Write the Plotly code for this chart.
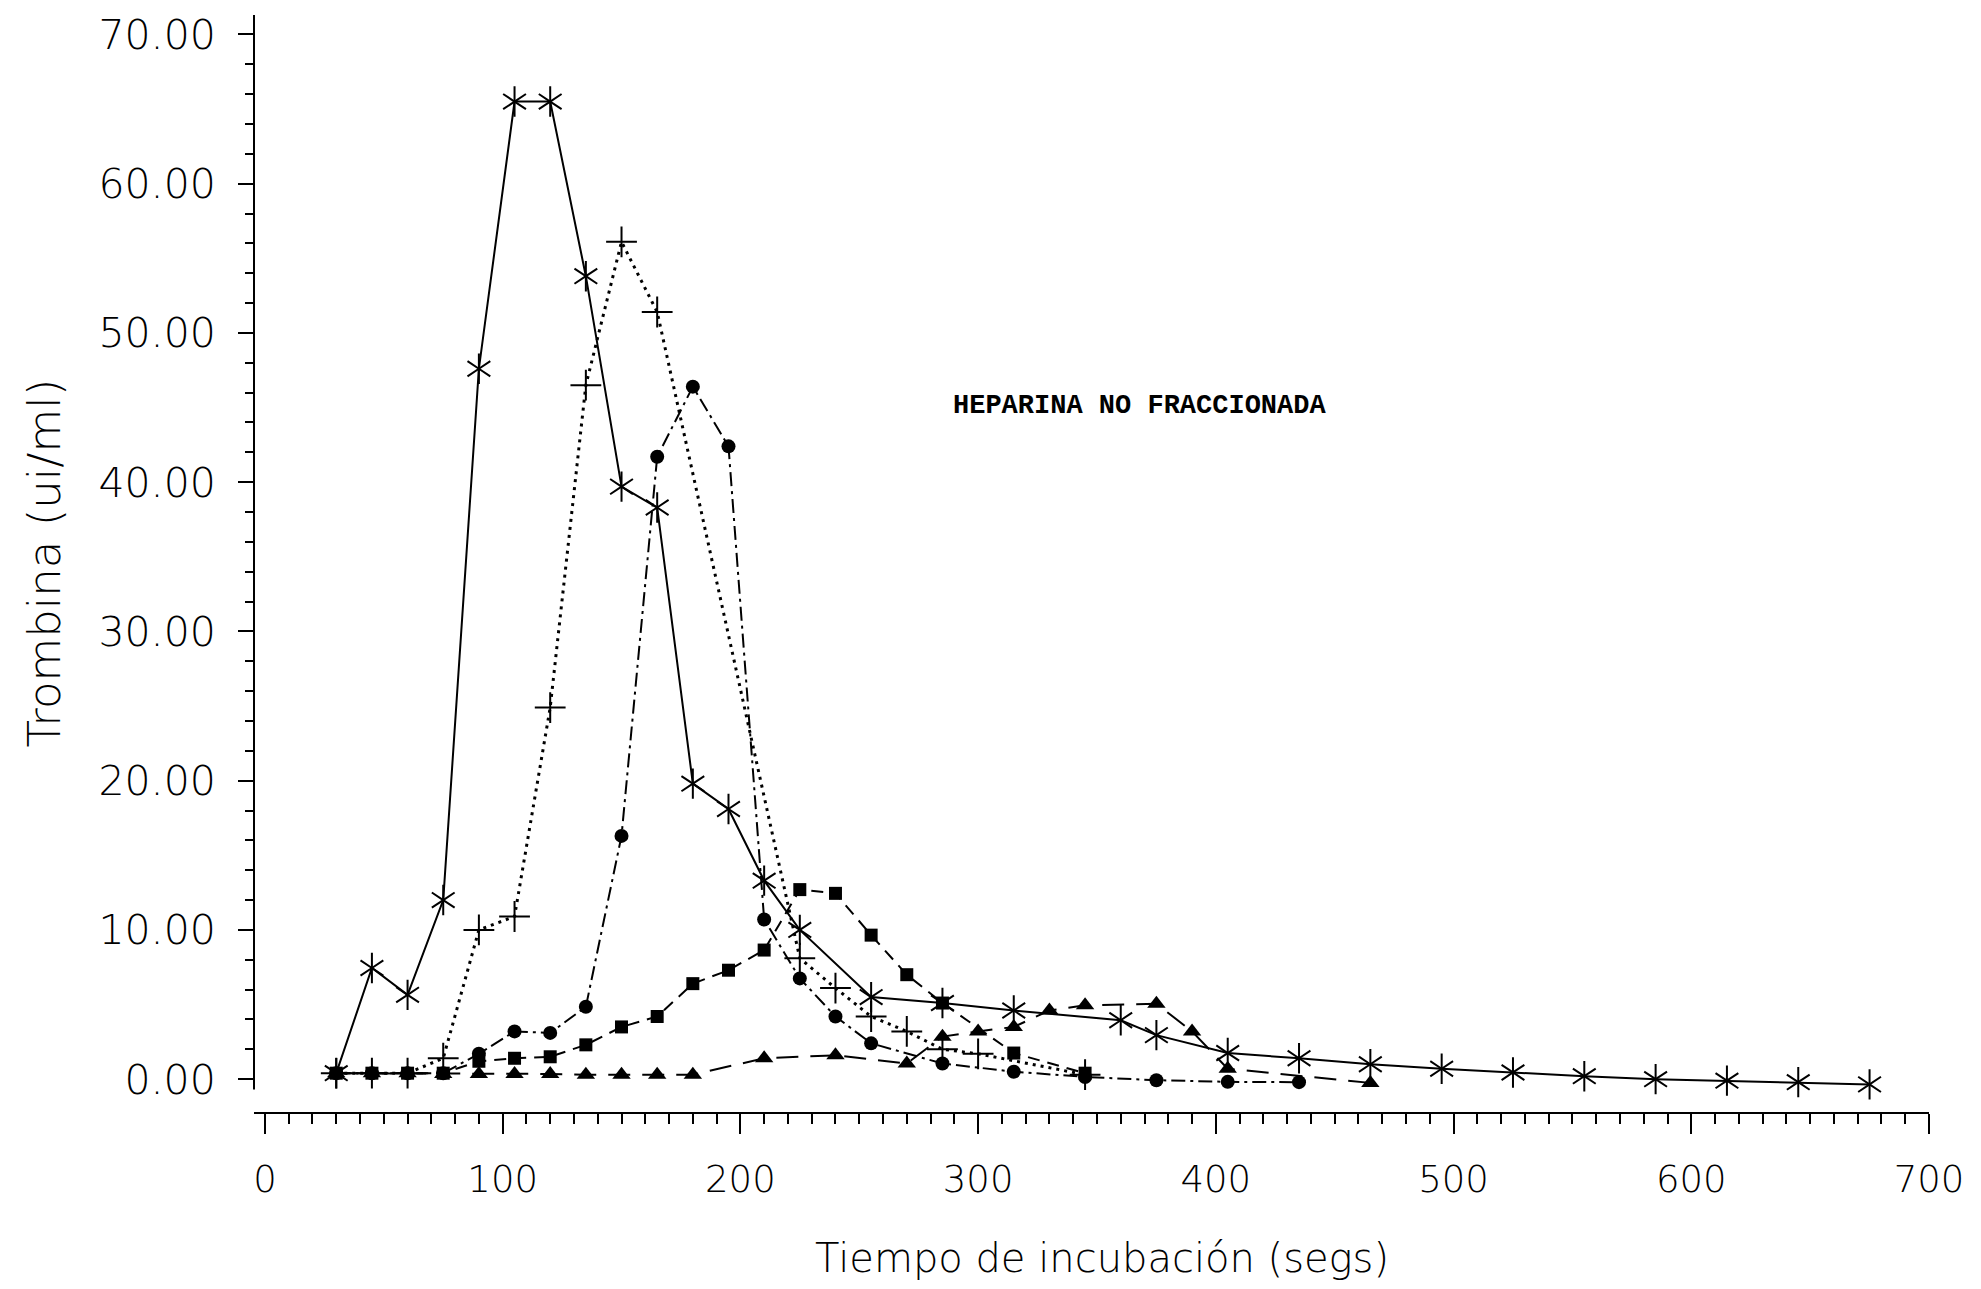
import plotly.graph_objects as go

# ---- data ----
x_star = [30, 45, 60, 75, 90, 105, 120, 135, 150, 165, 180, 195, 210, 225, 255, 285, 315,
          360, 375, 405, 435, 465, 495, 525, 555, 585, 615, 645, 675]
y_star = [0.4, 7.45, 5.65, 12.0, 47.6, 65.5, 65.5, 53.8, 39.7, 38.3, 19.8, 18.1, 13.3, 10.0,
          5.5, 5.1, 4.6, 3.95, 2.95, 1.75, 1.4, 1.0, 0.7, 0.45, 0.2, 0.0, -0.1, -0.2, -0.35]

x_plus = [30, 45, 60, 75, 90, 105, 120, 135, 150, 165, 225, 240, 255, 270, 285, 300, 345]
y_plus = [0.4, 0.4, 0.4, 1.4, 10.0, 10.9, 24.9, 46.5, 56.1, 51.4, 8.1, 6.1, 4.2, 3.2, 2.0, 1.7, 0.3]

x_circ = [30, 45, 60, 75, 90, 105, 120, 135, 150, 165, 180, 195, 210, 225, 240, 255, 285,
          315, 345, 375, 405, 435]
y_circ = [0.4, 0.4, 0.4, 0.4, 1.7, 3.2, 3.1, 4.85, 16.3, 41.7, 46.4, 42.4, 10.7, 6.75, 4.2,
          2.4, 1.05, 0.5, 0.15, -0.07, -0.18, -0.2]

x_sq = [30, 45, 60, 75, 90, 105, 120, 135, 150, 165, 180, 195, 210, 225, 240, 255, 270, 285,
        315, 345]
y_sq = [0.4, 0.4, 0.4, 0.4, 1.2, 1.4, 1.5, 2.3, 3.5, 4.2, 6.4, 7.3, 8.65, 12.7, 12.45, 9.65,
        7.0, 5.1, 1.75, 0.4]

x_tri = [30, 45, 60, 75, 90, 105, 120, 135, 150, 165, 180, 210, 240, 270, 285, 300, 315, 330,
         345, 375, 390, 405, 465]
y_tri = [0.4, 0.4, 0.4, 0.35, 0.35, 0.35, 0.35, 0.3, 0.3, 0.3, 0.3, 1.4, 1.6, 1.05, 2.85, 3.2,
         3.5, 4.6, 4.95, 5.05, 3.2, 0.7, -0.25]

annotation_text = "HEPARINA NO FRACCIONADA"
x_title = "Tiempo de incubación (segs)"
y_title = "Trombina (ui/ml)"
x_ticks = [0, 100, 200, 300, 400, 500, 600, 700]
y_ticks = [0, 10, 20, 30, 40, 50, 60, 70]

BLACK = "#000000"
fig = go.Figure()

# squares, dashed
fig.add_trace(go.Scatter(x=x_sq, y=y_sq, mode="lines+markers",
                         line=dict(color=BLACK, width=2, dash="12px,8px"),
                         marker=dict(symbol="square", size=13, color=BLACK)))
# triangles, long dashed
fig.add_trace(go.Scatter(x=x_tri, y=y_tri, mode="lines+markers",
                         line=dict(color=BLACK, width=2, dash="22px,12px"),
                         marker=dict(symbol="triangle-up", size=16, color=BLACK)))
# circles, dash-dot
fig.add_trace(go.Scatter(x=x_circ, y=y_circ, mode="lines+markers",
                         line=dict(color=BLACK, width=2, dash="14px,5px,3px,5px"),
                         marker=dict(symbol="circle", size=14, color=BLACK)))
# plus, dotted
fig.add_trace(go.Scatter(x=x_plus, y=y_plus, mode="lines+markers",
                         line=dict(color=BLACK, width=3, dash="3px,5px"),
                         marker=dict(symbol="cross-thin-open", size=22, color=BLACK,
                                     line=dict(color=BLACK, width=2))))
# asterisk, solid (6-armed star built from two y-shaped markers)
fig.add_trace(go.Scatter(x=x_star, y=y_star, mode="lines+markers",
                         line=dict(color=BLACK, width=2),
                         marker=dict(symbol="y-up-open", size=19, color=BLACK,
                                     line=dict(color=BLACK, width=2))))
fig.add_trace(go.Scatter(x=x_star, y=y_star, mode="markers",
                         marker=dict(symbol="y-down-open", size=19, color=BLACK,
                                     line=dict(color=BLACK, width=2))))

# y axis line (stops just below zero, as in the original)
fig.add_shape(type="line", xref="paper", yref="y", x0=0, x1=0, y0=-0.7, y1=71.3,
              line=dict(color=BLACK, width=2))

fig.add_annotation(x=368, y=45.1, xref="x", yref="y", text=annotation_text,
                   showarrow=False, font=dict(family="Liberation Mono", size=27,
                                              color=BLACK, weight="bold"))
fig.add_annotation(x=0, y=0.5, xref="paper", yref="paper", text=y_title, textangle=-90,
                   showarrow=False, xshift=-210, xanchor="center", yanchor="middle",
                   font=dict(family="DejaVu Sans", size=45, color=BLACK, weight=200))
fig.add_annotation(x=0.506, y=0, xref="paper", yref="paper", text=x_title,
                   showarrow=False, yshift=-146, xanchor="center", yanchor="middle",
                   font=dict(family="DejaVu Sans", size=40, color=BLACK, weight=200))

fig.update_layout(
    width=1981, height=1289,
    margin=dict(l=254, r=52, t=15, b=177, pad=0),
    paper_bgcolor="white", plot_bgcolor="white",
    showlegend=False,
    xaxis=dict(range=[-4.6, 700], tickvals=x_ticks, ticks="outside", ticklen=20,
               tickwidth=2, tickcolor=BLACK, showline=True, linecolor=BLACK, linewidth=2,
               showgrid=False, zeroline=False, ticklabelstandoff=14,
               tickfont=dict(family="DejaVu Sans", size=37, color=BLACK, weight=200),
               minor=dict(dtick=10, tick0=0, ticks="outside", ticklen=10, tickwidth=2,
                          tickcolor=BLACK, showgrid=False)),
    yaxis=dict(range=[-2.2, 71.3], tickvals=y_ticks, tickformat=".2f", ticks="outside",
               ticklen=15, tickwidth=2, tickcolor=BLACK, showline=False, showgrid=False,
               zeroline=False, ticklabelstandoff=14,
               tickfont=dict(family="DejaVu Sans", size=41, color=BLACK, weight=200),
               minor=dict(tickmode="array", tickvals=[v for v in range(2, 70, 2) if v % 10],
                          ticks="outside", ticklen=8, tickwidth=2, tickcolor=BLACK,
                          showgrid=False)),
)

fig.write_html("out.html")
